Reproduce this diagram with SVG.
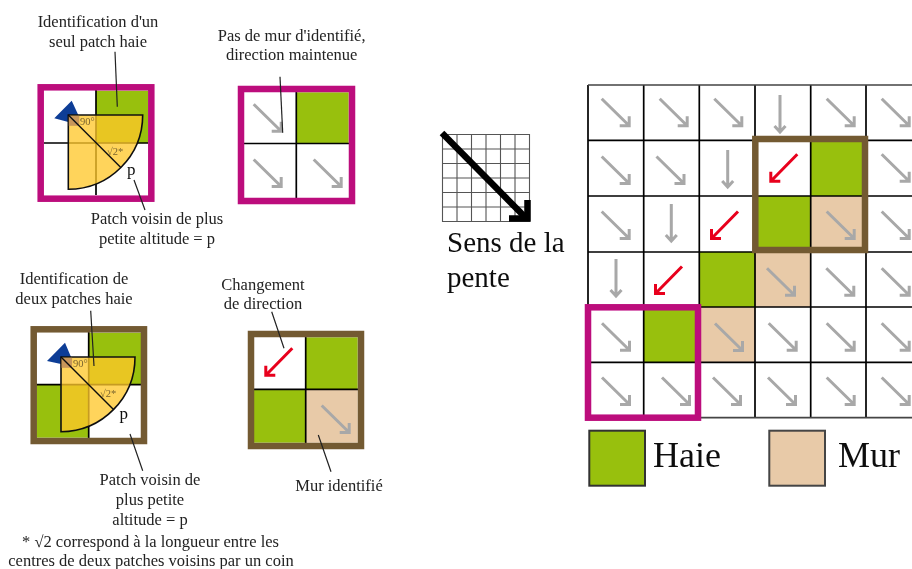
<svg xmlns="http://www.w3.org/2000/svg" width="912" height="569" viewBox="0 0 912 569">
<style>
text{font-family:"Liberation Serif","Times New Roman",serif;fill:#222}
.l{font-size:16.5px;text-anchor:middle}
.big{font-size:36px;fill:#111}
.mid{font-size:29px;fill:#111}
.sm{font-size:10.5px;fill:#7a6430}
.p{font-size:17px;fill:#111}
.leader{stroke:#222;stroke-width:1.2;fill:none}
.h{fill:#98c00c}.m{fill:#e8caa8}
.g{stroke:#000;stroke-width:1.7;fill:none}
.mag{fill:none;stroke:#bc0a7c;stroke-width:6.5}
.bro{fill:none;stroke:#735a32;stroke-width:6.5}
.sec{fill:#ffc82a;fill-opacity:.775;stroke:#111;stroke-width:1.6}
.diag{stroke:#111;stroke-width:1.4}
.corner{fill:#c8975a}
.blue{fill:#0d3c96}
.ga{fill:none;stroke:#a8a8a8;stroke-width:3}
.ra{fill:none;stroke:#e8001c;stroke-width:3}
</style>
<defs>
<filter id="soft" x="0" y="0" width="100%" height="100%"><feGaussianBlur stdDeviation="0.5"/></filter>
<g id="se" class="ga"><path d="M-29,-28.5 L-2,-2 M-11,-1.5 H-1.5 V-11"/></g>
<g id="so" class="ga"><path d="M0,-39 V-2 M-5.5,-8 L0,-2 L5.5,-8"/></g>
<g id="sw" class="ra"><path d="M28,-28.5 L2,-2 M1.5,-11 V-1.5 H11"/></g>
</defs>
<rect width="912" height="569" fill="#fff"/>
<g filter="url(#soft)">

<g id="node-box-a">
<rect class="h" x="96" y="90.7" width="52" height="52.5"/>
<path class="g" d="M96,90V195M44,143H148"/>
<polygon class="blue" points="54.3,118.3 71.7,100.7 78.3,115 68.3,115 68.3,122"/>
<path class="sec" d="M68.3,115H142.7A74.4,74.4 0 0 1 68.3,189.3Z"/>
<rect class="corner" x="68.8" y="115.8" width="10.5" height="10"/>
<path class="diag" d="M68.3,115L120.8,167.5"/>
<text class="sm" x="80" y="125">90°</text>
<text class="sm" x="107" y="155">√2*</text>
<text class="p" x="127" y="175">p</text>
<rect class="mag" x="40.7" y="87.3" width="110.6" height="111.4"/>
<path class="leader" d="M115,51.7L117.3,106.7M134,180L145,210"/>
<text class="l" x="98" y="27">Identification d'un</text>
<text class="l" x="98" y="47">seul patch haie</text>
<text class="l" x="157" y="224">Patch voisin de plus</text>
<text class="l" x="157" y="244">petite altitude = p</text>
</g>

<g id="node-box-b">
<rect class="h" x="296.3" y="92.3" width="52.4" height="51.4"/>
<path class="g" d="M296.3,92V198M244,143.5H349"/>
<use href="#se" x="282.7" y="132.7"/>
<use href="#se" x="282.7" y="188"/>
<use href="#se" x="342.7" y="188"/>
<rect class="mag" x="241" y="89" width="111" height="112"/>
<path class="leader" d="M280,76.7L282.7,132.7"/>
<text class="l" x="291.7" y="41">Pas de mur d'identifié,</text>
<text class="l" x="291.7" y="60">direction maintenue</text>
</g>

<g id="node-box-c">
<rect class="h" x="88.7" y="332.7" width="52.3" height="52"/>
<rect class="h" x="36.7" y="384.7" width="52" height="53"/>
<path class="g" d="M88.7,332V438M36,384.7H141"/>
<polygon class="blue" points="47,361 65,342.7 71,357 61,357 61,364"/>
<path class="sec" d="M61,357H135A74.5,74.5 0 0 1 61,431.7Z"/>
<rect class="corner" x="61.6" y="357.8" width="10.5" height="10"/>
<path class="diag" d="M61,357L113.5,409.5"/>
<text class="sm" x="73" y="367">90°</text>
<text class="sm" x="100" y="397">√2*</text>
<text class="p" x="119.5" y="419">p</text>
<rect class="bro" x="33.7" y="329.3" width="110.3" height="111.7"/>
<path class="leader" d="M90.7,310.7L94,366M130,434L142.7,470.7"/>
<text class="l" x="74" y="284">Identification de</text>
<text class="l" x="74" y="304">deux patches haie</text>
<text class="l" x="150" y="485">Patch voisin de</text>
<text class="l" x="150" y="505">plus petite</text>
<text class="l" x="150" y="525">altitude = p</text>
</g>

<g id="node-box-d">
<rect class="h" x="305.7" y="337.3" width="52" height="52"/>
<rect class="h" x="254" y="389.3" width="51.7" height="53.4"/>
<rect class="m" x="305.7" y="389.3" width="52" height="53.4"/>
<path class="g" d="M305.7,337V443M254,389.3H358"/>
<use href="#sw" x="264.3" y="376.7"/>
<use href="#se" x="350.7" y="434"/>
<rect class="bro" x="251" y="334" width="110" height="112"/>
<path class="leader" d="M271.7,311.7L284,348.3M318.3,435L331,471.7"/>
<text class="l" x="263" y="289.5">Changement</text>
<text class="l" x="263" y="309">de direction</text>
<text class="l" x="339" y="491">Mur identifié</text>
</g>

<g id="node-note">
<text class="l" x="150.5" y="547">* √2 correspond à la longueur entre les</text>
<text class="l" x="151" y="566">centres de deux patches voisins par un coin</text>
</g>

<g id="node-slope">
<path d="M442.5,134.5H529.5M442.5,149H529.5M442.5,163.5H529.5M442.5,178H529.5M442.5,192.5H529.5M442.5,207H529.5M442.5,221.5H529.5M442.5,134V222M457,134V222M471.5,134V222M486,134V222M500.5,134V222M515,134V222M529.5,134V222" stroke="#555" stroke-width="1.1" fill="none"/>
</g>

<g id="connectors">
<path d="M442,133L526,218" stroke="#000" stroke-width="6.5" fill="none"/>
<path d="M509,218.5H527.5V200" stroke="#000" stroke-width="6.5" fill="none"/>
</g>

<g id="node-slope-label">
<text class="mid" x="447" y="252">Sens de la</text>
<text class="mid" x="447" y="287">pente</text>
</g>

<g id="node-grid">
<rect class="h" x="810.7" y="140.3" width="55.3" height="55.7"/>
<rect class="h" x="755" y="196" width="55.7" height="56"/>
<rect class="h" x="699.3" y="252" width="55.7" height="55"/>
<rect class="h" x="643.7" y="307" width="55.6" height="55.3"/>
<rect class="m" x="810.7" y="196" width="55.3" height="56"/>
<rect class="m" x="755" y="252" width="55.7" height="55"/>
<rect class="m" x="699.3" y="307" width="55.7" height="55.3"/>
<path class="g" d="M588,85V418M643.7,85V418M699.3,85V418M755,85V418M810.7,85V418M866,85V418M588,140.3H912M588,196H912M588,252H912M588,307H912M588,362.3H912"/>
<path d="M588,85H912M588,417.7H912" stroke="#444" stroke-width="1.7" fill="none"/>
<use href="#se" x="630.7" y="127.3"/><use href="#se" x="688.7" y="127.3"/><use href="#se" x="743.3" y="127.3"/><use href="#so" x="780" y="134"/><use href="#se" x="855.7" y="127.3"/><use href="#se" x="910.7" y="127.3"/>
<use href="#se" x="630.7" y="185"/><use href="#se" x="685.5" y="185"/><use href="#so" x="727.7" y="189"/><use href="#sw" x="769.3" y="182.7"/><use href="#se" x="910.7" y="182.7"/>
<use href="#se" x="630.7" y="240"/><use href="#so" x="671.3" y="243"/><use href="#sw" x="710" y="240"/><use href="#se" x="855.7" y="240"/><use href="#se" x="910.7" y="240"/>
<use href="#so" x="616" y="298"/><use href="#sw" x="654" y="295"/><use href="#se" x="796" y="296.7"/><use href="#se" x="855.3" y="296.7"/><use href="#se" x="910.7" y="296.7"/>
<use href="#se" x="631" y="351.7"/><use href="#se" x="744" y="352"/><use href="#se" x="797.7" y="351.7"/><use href="#se" x="855.7" y="351.7"/><use href="#se" x="910.7" y="351.7"/>
<use href="#se" x="631" y="406"/><use href="#se" x="691" y="406"/><use href="#se" x="742" y="406"/><use href="#se" x="797" y="406"/><use href="#se" x="855.7" y="406"/><use href="#se" x="910.7" y="406"/>
<rect class="bro" x="755.3" y="139" width="109.7" height="111"/>
<rect class="mag" x="588" y="307.3" width="110" height="110.4"/>
</g>

<g id="node-legend-haie">
<rect class="h" x="589.3" y="430.7" width="55.7" height="55" stroke="#333" stroke-width="2"/>
<text class="big" x="653" y="467">Haie</text>
</g>
<g id="node-legend-mur">
<rect class="m" x="769.3" y="430.7" width="55.7" height="55" stroke="#444" stroke-width="2"/>
<text class="big" x="838" y="467">Mur</text>
</g>
</g>
</svg>
